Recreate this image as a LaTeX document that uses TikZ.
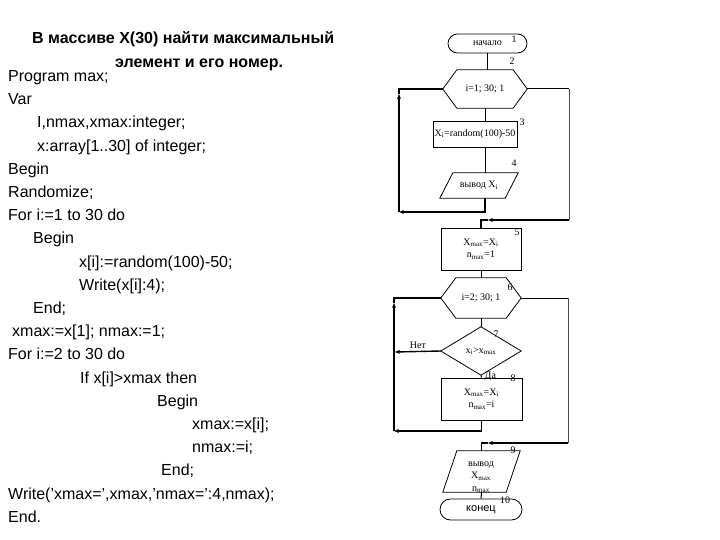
\documentclass[tikz,border=0pt]{standalone}
\usepackage{fontspec}
\setmainfont{Liberation Sans}
\newfontfamily\tms{Liberation Serif}
\usetikzlibrary{arrows.meta}
\begin{document}
\begin{tikzpicture}[x=1pt,y=-1pt,
  code/.style={anchor=base west, inner sep=0pt, font=\fontsize{16}{16}\selectfont},
  ttl/.style={anchor=base west, inner sep=0pt, font=\fontsize{16}{16}\selectfont\bfseries},
  shp/.style={inner sep=0pt, align=center, font=\tms\fontsize{10}{12.5}\selectfont},
  num/.style={inner sep=0pt, font=\tms\fontsize{10}{10}\selectfont},
  ol/.style={draw=black, line width=0.8pt},
  ln/.style={draw=black, line width=1pt},
  lp/.style={draw=black, line width=1.4pt},
  thin line/.style={draw=black!70, line width=0.7pt},
  arr/.style={lp, -{Stealth[length=5pt,width=4pt]}}]
\useasboundingbox (0,0) rectangle (720,540);
\fill[white] (0,0) rectangle (720,540);

% title
\node[ttl] (t1) at (32,43.5) {В массиве X(30) найти максимальный};
\node[ttl] (t2) at (115,67.5) {элемент и его номер.};

% program text
\node[code] (p0) at (8,81.5) {Program max;};
\node[code] (p1) at (8,104.7) {Var};
\node[code] (p2) at (37,127.9) {I,nmax,xmax:integer;};
\node[code] (p3) at (37,151.1) {x:array[1..30] of integer;};
\node[code] (p4) at (8,174.3) {Begin};
\node[code] (p5) at (8,197.5) {Randomize;};
\node[code] (p6) at (8,220.7) {For i:=1 to 30 do};
\node[code] (p7) at (33,243.9) {Begin};
\node[code] (p8) at (79,267.1) {x[i]:=random(100)-50;};
\node[code] (p9) at (79,290.3) {Write(x[i]:4);};
\node[code] (p10) at (33,313.5) {End;};
\node[code] (p11) at (12,336.7) {xmax:=x[1]; nmax:=1;};
\node[code] (p12) at (8,359.9) {For i:=2 to 30 do};
\node[code] (p13) at (80,383.1) {If x[i]>xmax then};
\node[code] (p14) at (157,406.3) {Begin};
\node[code] (p15) at (192,429.5) {xmax:=x[i];};
\node[code] (p16) at (192,452.7) {nmax:=i;};
\node[code] (p17) at (161,475.9) {End;};
\node[code] (p18) at (8,499.1) {Write('xmax=',xmax,'nmax=':4,nmax);};
\node[code] (p19) at (8,522.3) {End.};

% flowchart blocks
\node[shp, ol, rounded corners=9.5pt, minimum width=79, minimum height=19] (st) at (487.5,43.5) {начало};
\node[shp, minimum width=84, minimum height=38] (h1) at (485,89) {i=1; 30; 1};
\draw[ol] (h1.west) -- ([xshift=14pt]h1.north west) -- ([xshift=-14pt]h1.north east) -- (h1.east)
  -- ([xshift=-14pt]h1.south east) -- ([xshift=14pt]h1.south west) -- cycle;
\node[shp, ol, minimum width=84, minimum height=26] (b3) at (475,134) {X\textsubscript{i}=random(100)-50};
\node[shp, minimum width=78, minimum height=25] (b4) at (479,185.5) {вывод X\textsubscript{i}};
\draw[ol] ([xshift=13pt]b4.north west) -- (b4.north east) -- ([xshift=-13pt]b4.south east) -- (b4.south west) -- cycle;
\node[shp, ol, minimum width=80, minimum height=42] (b5) at (481,249) {X\textsubscript{max}=X\textsubscript{i}\\n\textsubscript{max}=1};
\node[shp, minimum width=80, minimum height=40] (h6) at (481,298) {i=2; 30; 1};
\draw[ol] (h6.west) -- ([xshift=15pt]h6.north west) -- ([xshift=-15pt]h6.north east) -- (h6.east)
  -- ([xshift=-15pt]h6.south east) -- ([xshift=15pt]h6.south west) -- cycle;
\node[shp, minimum width=80, minimum height=48] (d7) at (481,351) {x\textsubscript{i}>x\textsubscript{max}};
\draw[ol] (d7.north) -- (d7.east) -- (d7.south) -- (d7.west) -- cycle;
\node[shp, ol, minimum width=81, minimum height=42] (b8) at (481.5,399) {X\textsubscript{max}=X\textsubscript{i}\\n\textsubscript{max}=i};
\node[shp, minimum width=77, minimum height=41] (b9) at (481.5,471.5) {};
\draw[ol] ([xshift=14pt]b9.north west) -- (b9.north east) -- ([xshift=-14pt]b9.south east) -- (b9.south west) -- cycle;
\node[shp] (b9t) at (481,477) {вывод\\X\textsubscript{max}\\n\textsubscript{max}};
\node[ol, inner sep=0pt, rounded corners=10.5pt, minimum width=82, minimum height=21, font=\fontsize{11}{11}\selectfont] (en) at (481,509.5) {конец};

% block numbers
\node[num] (n1) at (514,39) {1};
\node[num] (n2) at (512,61) {2};
\node[num] (n3) at (522,122) {3};
\node[num] (n4) at (514,163) {4};
\node[num] (n5) at (517,232) {5};
\node[num] (n6) at (510,287) {6};
\node[num] (n7) at (496,334) {7};
\node[num] (n8) at (513,378) {8};
\node[num] (n9) at (513,450) {9};
\node[num] (n10) at (505,500) {10};

% connectors
\coordinate (L1b) at (399,212);
\coordinate (L1t) at (399,94);
\coordinate (R1t) at (569,89);
\coordinate (R1b) at (569,220);
\coordinate (A1) at (488,220);
\coordinate (N) at (395,352);
\coordinate (L2b) at (394,431);
\coordinate (L2t) at (394,303);
\coordinate (R2t) at (568,298);
\coordinate (R2b) at (568,443);
\coordinate (A2) at (488,443);

\draw[ln] (st.south) -- (st.south |- h1.north);
\draw[ln] (h1.south) -- (h1.south |- b3.north);
\draw[ln] (b3.south -| h1.south) -- (b4.north -| h1.south);
\draw[arr] (b4.south -| h1.south) |- (L1b);
\draw[arr] (L1b) -- (L1t);
\draw[lp] (L1t) |- (h1.west);
\draw[ln] (h1.east) -- (R1t);
\draw[thin line] (R1t) -- (R1b);
\draw[arr] (R1b) -- (A1);
\draw[lp] (A1) -| (b5.north);
\draw[ln] (b5.south) -- (h6.north);
\draw[ln] (h6.south) -- (d7.north);
\draw[ln] (d7.south) -- (b8.north) node[num, pos=0.4, right=3pt] {Да};
\draw[arr] (d7.west) -- (N) node[num, pos=0.5, above=2pt] {Нет};
\draw[arr] (b8.south) |- (L2b);
\draw[arr] (L2b) -- (L2t);
\draw[lp] (L2t) |- (h6.west);
\draw[ln] (h6.east) -- (R2t);
\draw[thin line] (R2t) -- (R2b);
\draw[arr] (R2b) -- (A2);
\draw[lp] (A2) -| (b9.north);
\draw[ln] (b9.south) -- (en.north);
\end{tikzpicture}
\end{document}
